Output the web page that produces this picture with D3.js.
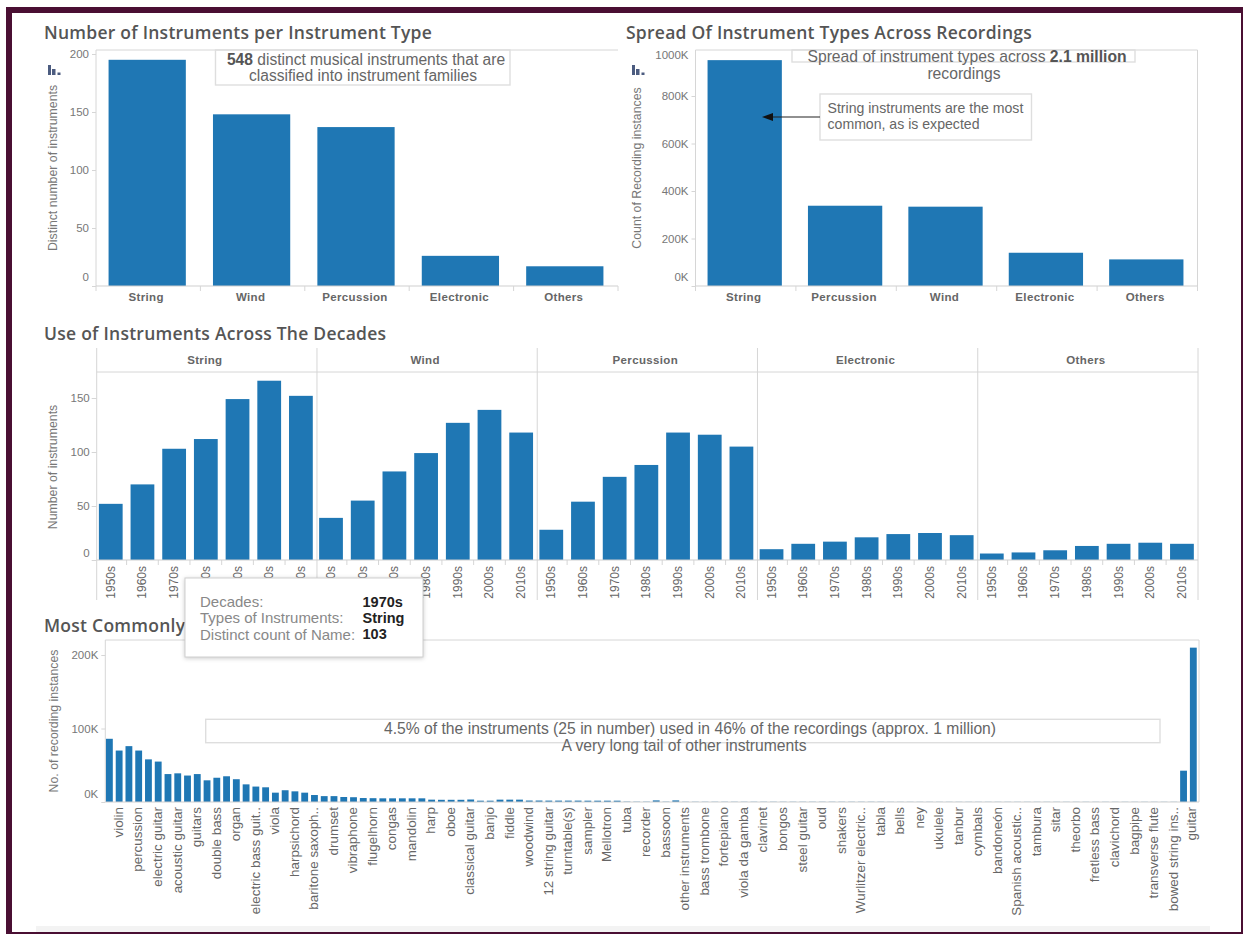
<!DOCTYPE html>
<html>
<head>
<meta charset="utf-8">
<script src="https://cdn.jsdelivr.net/npm/d3@7"></script>
<style>
  html, body { margin: 0; padding: 0; background: #fff; }
  svg { display: block; }
  text { font-family: "Liberation Sans", Arial, sans-serif; }
  .title { font-family: "Open Sans", sans-serif; font-weight: 600; font-size: 17.5px; letter-spacing: .25px; fill: #555; }
  .cat { font-weight: 700; font-size: 11.5px; fill: #666; letter-spacing: .35px; }
  .tick-text { font-size: 11.5px; fill: #777; }
  .axis-title { font-size: 12.3px; fill: #777; }
  .note { fill: #666; }
</style>
</head>
<body>
<svg id="board" width="1243" height="934"></svg>
<script>
// Instrument families, by distinct instruments
const familyNames = ["String", "Wind", "Percussion", "Electronic", "Others"];
const familyCounts = [195, 148, 137, 26, 17];

// Families ranked by recording instances
const spreadNames = ["String", "Percussion", "Wind", "Electronic", "Others"];
const spreadCounts = [951000, 338000, 334000, 140000, 112000];

// Distinct instruments used per decade, per family
const decades = ["1950s", "1960s", "1970s", "1980s", "1990s", "2000s", "2010s"];
const stringByDecade = [52, 70, 103, 112, 149, 166, 152];
const windByDecade = [39, 55, 82, 99, 127, 139, 118];
const percussionByDecade = [28, 54, 77, 88, 118, 116, 105];
const electronicByDecade = [10, 15, 17, 21, 24, 25, 23];
const othersByDecade = [6, 7, 9, 13, 15, 16, 15];

// Recording instances per instrument (thousands), in axis order
const instrumentInstances = [
  86, 70, 76, 70, 58, 55, 38, 39, 36, 38, 29.5, 33, 35, 31, 24, 21, 20, 12.7, 16, 14.5,
  12.7, 9.5, 8, 8, 6.8, 6.5, 5.4, 5.2, 5, 5, 5, 5, 5, 3.2, 3, 3, 3, 3.4, 1.8, 1.8,
  3.2, 3.2, 3.2, 2, 2, 1.9, 1.9, 1.9, 1.9, 1.8, 1.8, 1.8, 1.8, 0.5, 0.4, 0.4, 2.2, 0.4, 2.2, 0.3,
  0.3, 0.3, 0.3, 0.3, 0.3, 0.3, 0.3, 0.3, 0.3, 0.3, 0.3, 0.3, 0.3, 0.3, 0.3, 0.3, 0.3, 0.3, 0.3, 0.3,
  0.2, 0.2, 0.2, 0.2, 0.2, 0.2, 0.2, 0.2, 0.2, 0.2, 0.2, 0.2, 0.2, 0.2, 0.2, 0.2, 0.2, 0.2, 0.2, 0.2,
  0.2, 0.2, 0.2, 0.2, 0.2, 0.2, 0.2, 0.2, 0.2, 0.2, 42.6, 210
];

// The axis only has room to name every second instrument
const instrumentLabels = [
  "violin", "percussion", "electric guitar", "acoustic guitar", "guitars", "double bass", "organ",
  "electric bass guit..", "viola", "harpsichord", "baritone saxoph..", "drumset", "vibraphone",
  "flugelhorn", "congas", "mandolin", "harp", "oboe", "classical guitar", "banjo", "fiddle",
  "woodwind", "12 string guitar", "turntable(s)", "sampler", "Mellotron", "tuba", "recorder",
  "bassoon", "other instruments", "bass trombone", "fortepiano", "viola da gamba", "clavinet",
  "bongos", "steel guitar", "oud", "shakers", "Wurlitzer electric..", "tabla", "bells", "ney",
  "ukulele", "tanbur", "cymbals", "bandoneón", "Spanish acoustic..", "tambura", "sitar", "theorbo",
  "fretless bass", "clavichord", "bagpipe", "transverse flute", "bowed string ins..", "guitar"
];

const BAR = "#1f77b4";
const RULE = "#d6d6d6";
const FRAME = "#4a0f33";

const svg = d3.select("#board");

// Page frame
[[6, 7, 1237, 6], [6, 7, 6, 927], [6, 932, 1237, 2], [1241, 7, 2, 927]].forEach(([x, y, w, h]) => {
  svg.append("rect").attr("x", x).attr("y", y).attr("width", w).attr("height", h).attr("fill", FRAME);
});
svg.append("rect").attr("x", 36).attr("y", 926).attr("width", 1174).attr("height", 6).attr("fill", "#f3f3f3");

function rule(x1, y1, x2, y2, colour = RULE) {
  svg.append("line").attr("x1", x1).attr("y1", y1).attr("x2", x2).attr("y2", y2)
    .attr("stroke", colour).attr("stroke-width", 1);
}

function title(text, x, y) {
  svg.append("text").attr("class", "title").attr("x", x).attr("y", y)
    .attr("dominant-baseline", "central").text(text);
}

function axisTitle(text, x, y) {
  svg.append("text").attr("class", "axis-title")
    .attr("transform", `translate(${x},${y}) rotate(-90)`)
    .attr("text-anchor", "middle").attr("dominant-baseline", "central").text(text);
}

// Left axis; labels at the extremes are pulled inside the plot height
function yAxis(scale, x, ticks, format, nudges) {
  const g = svg.append("g").attr("transform", `translate(${x},0)`)
    .call(d3.axisLeft(scale).tickValues(ticks).tickFormat(format).tickSize(4).tickPadding(3));
  g.select(".domain").remove();
  g.selectAll(".tick line").attr("stroke", RULE);
  g.selectAll(".tick text").attr("class", "tick-text")
    .attr("dy", "0.32em")
    .attr("transform", d => `translate(0,${nudges[d] || 0})`);
  return g;
}

function icon(x, y) {
  const g = svg.append("g").attr("transform", `translate(${x},${y})`).attr("fill", "#4c5c80");
  [[0, 0, 3, 10], [4, 4, 3.5, 6], [9.5, 7.5, 3, 2.5]].forEach(([a, b, w, h]) => {
    g.append("rect").attr("x", a).attr("y", b).attr("width", w).attr("height", h);
  });
}

function noteBox(x0, y0, x1, y1) {
  svg.append("rect").attr("x", x0).attr("y", y0).attr("width", x1 - x0).attr("height", y1 - y0)
    .attr("fill", "none").attr("stroke", "#dedede").attr("stroke-width", 1.4);
}

function note(parts, x, y, anchor, size) {
  const t = svg.append("text").attr("class", "note").attr("x", x).attr("y", y)
    .attr("text-anchor", anchor).attr("dominant-baseline", "central").style("font-size", size + "px");
  parts.forEach(([s, bold]) => {
    t.append("tspan").attr("font-weight", bold ? 700 : 400).attr("fill", bold ? "#555" : "#666").text(s);
  });
}

// One family bar chart with its frame, separators and category names
function familyChart(names, values, left, right, scaleY, ticks, format, nudges, closed) {
  const x = d3.scaleBand().domain(names).range([left - 1, right - 1]).paddingInner(0.26).paddingOuter(0.13);
  const base = scaleY(0);
  rule(left, 50, right, 50);
  rule(left, 50, left, base);
  if (closed) rule(right, 50, right, base);
  svg.append("g").selectAll("rect").data(names).join("rect")
    .attr("x", d => x(d)).attr("width", x.bandwidth())
    .attr("y", (d, i) => scaleY(values[i]))
    .attr("height", (d, i) => base - scaleY(values[i]))
    .attr("fill", BAR);
  rule(left, base, right, base, "#cfcfcf");
  const step = x.step();
  d3.range(names.length + 1).forEach(i => rule(left + i * step, base, left + i * step, base + 5));
  svg.append("g").selectAll("text").data(names).join("text").attr("class", "cat")
    .attr("x", d => x(d) + x.bandwidth() / 2 - 1).attr("y", base + 11)
    .attr("text-anchor", "middle").attr("dominant-baseline", "central").text(d => d);
  return yAxis(scaleY, left, ticks, format, nudges);
}

// --- Number of instruments per type
title("Number of Instruments per Instrument Type", 44, 32);
familyChart(familyNames, familyCounts, 96, 618,
  d3.scaleLinear().domain([0, 200]).range([286, 54]),
  [0, 50, 100, 150, 200], d3.format("d"), { 0: -9 }, false);
axisTitle("Distinct number of instruments", 53, 168);
icon(48, 65);
noteBox(215.5, 50, 510, 85);
note([["548", true], [" distinct musical instruments that are", false]], 366, 58.5, "middle", 15.6);
note([["classified into instrument families", false]], 363, 75, "middle", 15.6);

// --- Spread across recordings
title("Spread Of Instrument Types Across Recordings", 626, 32);
const spreadAxis = familyChart(spreadNames, spreadCounts, 695.5, 1197.5,
  d3.scaleLinear().domain([0, 1000000]).range([286, 48.5]),
  [0, 200000, 400000, 600000, 800000, 1000000], d => d / 1000 + "K", { 0: -9, 1000000: 6.5 }, true);
spreadAxis.selectAll(".tick").filter(d => d === 1000000).select("line").remove();
axisTitle("Count of Recording instances", 637, 168);
icon(632, 65);
noteBox(792, 50, 1135, 62);
note([["Spread of instrument types across ", false], ["2.1 million", true]], 967, 56, "middle", 15.7);
note([["recordings", false]], 964, 73, "middle", 15.7);
noteBox(820, 94, 1031.5, 140);
note([["String instruments are the most", false]], 827.5, 108, "start", 14.1);
note([["common, as is expected", false]], 827.5, 124, "start", 14.1);
svg.append("line").attr("x1", 820).attr("y1", 117).attr("x2", 770).attr("y2", 117).attr("stroke", "#222").attr("stroke-width", 1.2);
svg.append("path").attr("d", d3.line()([[762, 117], [773, 113], [773, 121]]) + "Z").attr("fill", "#111");

// --- Use across the decades
title("Use of Instruments Across The Decades", 44, 333);
const facets = [
  ["String", stringByDecade], ["Wind", windByDecade], ["Percussion", percussionByDecade],
  ["Electronic", electronicByDecade], ["Others", othersByDecade]
];
const facetX = d3.scaleBand().domain(facets.map(f => f[0])).range([96.7, 1198]);
const decadeY = d3.scaleLinear().domain([0, 150]).range([560, 398]);
rule(96.7, 372, 1198, 372);
facets.forEach(([name, values]) => {
  const x0 = facetX(name), x1 = x0 + facetX.bandwidth();
  const x = d3.scaleBand().domain(decades).range([x0 - 1, x1 - 1]).paddingInner(0.25).paddingOuter(0.1);
  rule(x0, 348, x0, 600);
  svg.append("text").attr("class", "cat").attr("x", (x0 + x1) / 2 - 2).attr("y", 360)
    .attr("text-anchor", "middle").attr("dominant-baseline", "central").text(name);
  svg.append("g").selectAll("rect").data(decades).join("rect")
    .attr("x", d => x(d)).attr("width", x.bandwidth())
    .attr("y", (d, i) => decadeY(values[i])).attr("height", (d, i) => 560 - decadeY(values[i]))
    .attr("fill", BAR);
  decades.slice(1).forEach(d => rule(x(d) - x.step() * 0.125, 560, x(d) - x.step() * 0.125, 565));
  svg.append("g").selectAll("text").data(decades).join("text")
    .attr("transform", d => `translate(${x(d) + x.bandwidth() / 2},566) rotate(-90)`)
    .attr("text-anchor", "end").attr("dominant-baseline", "central")
    .style("font-size", "12px").attr("fill", "#666").text(d => d);
});
rule(1198, 348, 1198, 600);
rule(96.7, 560, 1198, 560, "#cfcfcf");
yAxis(decadeY, 96.7, [0, 50, 100, 150], d3.format("d"), { 0: -7 }).selectAll(".tick line").attr("x2", -5);
axisTitle("Number of instruments", 53, 467);

// --- Most commonly used instruments
title("Most Commonly", 44, 625);
const instrumentX = d3.scaleBand().domain(d3.range(instrumentInstances.length))
  .range([105.3, 1199]).paddingInner(0.3).paddingOuter(0.15);
const instanceY = d3.scaleLinear().domain([0, 200]).range([802, 655]);
rule(105.3, 640, 1199, 640);
rule(105.3, 640, 105.3, 802);
rule(1199, 640, 1199, 802);
svg.append("g").selectAll("rect").data(instrumentInstances).join("rect")
  .attr("x", (d, i) => instrumentX(i) - 0.8).attr("width", instrumentX.bandwidth())
  .attr("y", d => instanceY(d)).attr("height", d => 802 - instanceY(d))
  .attr("fill", BAR);
rule(105.3, 802, 1199, 802, "#cfcfcf");
svg.append("g").selectAll("text").data(instrumentLabels).join("text")
  .attr("transform", (d, k) => {
    const c = instrumentX(2 * k + 1) + instrumentX.bandwidth() / 2 - 1.5;
    return `translate(${k === instrumentLabels.length - 1 ? c - 1.3 : c},807) rotate(-90)`;
  })
  .attr("text-anchor", "end").attr("dominant-baseline", "central")
  .style("font-size", "13.4px").attr("fill", "#666").text(d => d);
yAxis(instanceY, 105.3, [0, 100, 200], d => d + "K", { 0: -8 });
axisTitle("No. of recording instances", 54, 721);
noteBox(205.7, 719.3, 1160, 742.7);
note([["4.5% of the instruments (25 in number) used in 46% of the recordings (approx. 1 million)", false]], 690, 727.5, "middle", 15.7);
note([["A very long tail of other instruments", false]], 684, 745, "middle", 15.7);

// --- Tooltip pinned over the decade chart
const tip = svg.append("g");
tip.append("rect").attr("x", 185).attr("y", 578).attr("width", 238).attr("height", 79)
  .attr("fill", "#fff").attr("stroke", "#cfcfcf")
  .style("filter", "drop-shadow(0 1px 2px rgba(0,0,0,.2))");
const tipRows = [["Decades:", "1970s"], ["Types of Instruments:", "String"], ["Distinct count of Name:", "103"]];
tipRows.forEach(([k, v], i) => {
  const y = 601.5 + i * 16.3;
  tip.append("text").attr("x", 200).attr("y", y).attr("dominant-baseline", "central")
    .style("font-size", "15px").attr("fill", "#888").text(k);
  tip.append("text").attr("x", 362.5).attr("y", y).attr("dominant-baseline", "central")
    .style("font-size", "14.5px").attr("font-weight", 700).attr("fill", "#222").text(v);
});
</script>
</body>
</html>
